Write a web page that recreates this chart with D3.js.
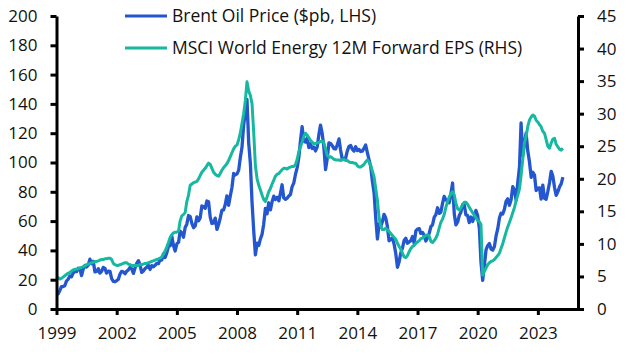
<!DOCTYPE html>
<html><head><meta charset="utf-8">
<script src="https://cdn.jsdelivr.net/npm/d3@7"></script>
<style>
html,body{margin:0;padding:0;background:#fff;}
svg text{font-family:"Open Sans",sans-serif;fill:#111;}
</style></head>
<body><svg id="chart" width="627" height="355"></svg>
<script>
// Monthly series starting Jan 1999
const startYear = 1999;
const brent = [
10.7,10.3,12.5,15.3,15.3,15.9,19.0,20.3,22.5,22.0,24.6,25.6,
25.5,27.8,27.5,22.8,27.3,29.8,28.7,30.0,34.0,30.9,32.6,25.3,
25.6,27.5,24.5,25.7,28.4,27.7,24.5,25.8,25.7,20.7,18.9,18.6,
19.4,20.3,23.7,25.7,25.4,24.1,25.7,26.7,28.4,27.5,24.3,28.0,
31.2,33.0,30.3,25.0,25.8,27.6,28.4,29.8,27.0,29.6,28.8,29.8,
31.2,30.9,33.8,33.4,37.6,35.2,38.2,42.7,43.2,49.8,43.1,39.6,
44.5,45.5,53.1,51.9,49.0,55.6,57.9,63.8,63.0,58.5,55.5,56.7,
62.9,60.2,62.1,70.3,69.8,68.7,73.7,73.2,62.5,58.4,58.8,62.0,
54.3,57.8,62.1,67.4,67.5,71.3,77.2,70.8,77.1,82.9,92.5,91.5,
92.2,94.8,103.3,110.4,125.5,133.9,143.0,113.4,99.1,72.8,53.2,37.0,
44.9,43.4,47.7,50.9,57.9,68.6,64.9,72.5,67.7,73.2,77.0,74.7,
76.2,73.8,78.8,84.8,75.9,74.8,75.6,77.1,78.2,83.5,86.1,92.0,
96.5,103.7,114.6,124.5,114.5,113.9,116.7,110.2,112.8,109.6,110.5,107.9,
110.7,119.3,125.5,119.8,110.3,95.2,102.6,113.4,113.0,111.5,109.5,109.2,
112.3,116.1,108.5,102.3,102.6,102.9,107.7,111.0,111.6,109.1,107.8,110.8,
108.1,108.9,107.5,107.8,109.7,111.9,106.9,101.9,97.3,87.3,79.4,62.3,
47.8,58.1,55.9,59.5,64.6,62.3,56.6,46.5,47.6,48.4,44.3,38.0,
28.5,32.2,38.2,41.6,46.7,48.3,44.9,45.8,46.6,49.5,44.8,53.3,
54.6,54.9,51.6,52.3,50.3,46.4,48.5,51.7,56.2,57.5,62.7,64.4,
69.1,65.3,66.0,72.1,76.9,74.4,74.3,72.5,78.9,86.0,64.8,57.4,
59.4,64.0,66.1,71.2,71.3,64.2,63.9,59.0,62.8,59.7,63.2,67.3,
63.6,55.0,32.0,19.5,29.4,40.3,43.2,44.7,40.9,40.2,42.7,49.9,
54.8,62.3,65.4,64.8,68.0,73.4,75.2,70.8,74.5,83.5,81.1,74.2,
86.5,97.1,127.0,104.6,113.3,120.0,108.0,100.5,89.8,93.3,91.4,80.9,
82.5,82.6,75.0,84.6,75.5,74.9,80.1,86.2,94.0,90.6,82.9,77.6,
80.1,83.5,85.4,90.0
];
const eps = [
5.0,4.8,4.6,4.7,4.9,5.1,5.3,5.5,5.6,5.8,6.0,6.1,
6.1,6.2,6.3,6.4,6.5,6.6,6.8,6.9,7.0,7.1,7.2,7.3,
7.3,7.4,7.5,7.6,7.6,7.7,7.7,7.8,7.8,7.6,7.0,6.8,
6.7,6.7,6.8,6.9,7.0,7.1,7.1,6.9,6.8,6.7,6.7,6.7,
6.7,6.7,6.8,6.8,6.9,7.0,7.0,7.1,7.2,7.3,7.4,7.5,
7.6,7.7,7.8,8.0,8.4,8.9,9.5,10.2,11.0,11.4,11.7,11.8,
11.8,12.0,13.5,14.3,14.5,14.8,16.5,17.5,19.0,19.2,19.4,19.5,
19.6,20.0,20.5,21.0,21.3,21.6,22.0,22.4,22.2,21.6,21.0,20.7,
20.5,20.4,20.8,21.3,21.7,22.0,22.3,22.8,23.4,24.0,24.6,25.0,
25.2,26.0,27.0,28.5,30.0,32.0,34.9,33.5,32.8,31.5,27.0,22.0,
20.0,19.0,18.3,17.5,16.8,16.5,17.2,18.0,18.5,19.2,19.8,20.4,
20.7,20.8,21.1,21.4,21.6,21.6,21.5,21.7,21.8,21.9,21.9,22.2,
23.0,24.2,24.9,25.6,26.5,27.0,26.7,26.3,25.9,25.6,25.4,25.4,
25.5,25.6,25.7,25.8,25.5,24.6,23.6,23.3,23.4,23.2,23.0,22.9,
22.9,22.9,22.8,22.9,23.0,22.8,22.8,22.6,22.5,22.5,22.4,22.4,
22.0,21.8,21.8,22.0,22.2,22.6,22.9,22.6,22.0,21.2,20.3,18.5,
16.7,14.0,12.8,12.2,12.2,12.4,12.2,11.9,11.6,11.3,11.0,10.7,
10.1,9.6,9.2,8.6,8.0,7.9,8.2,8.8,9.3,9.6,9.8,10.1,
10.3,10.5,10.8,10.9,11.1,11.3,11.4,11.2,10.4,10.2,10.5,10.9,
11.5,12.5,13.3,13.8,14.5,15.6,16.5,17.2,17.7,18.0,17.5,16.2,
15.4,15.2,15.5,16.0,16.4,16.4,16.1,15.6,15.2,14.8,14.4,14.0,
13.6,13.4,13.0,5.2,5.8,6.3,6.8,7.1,7.3,7.4,7.6,7.9,
8.2,8.6,9.3,10.0,10.9,11.8,12.6,13.3,14.0,14.8,15.6,16.6,
17.5,18.5,20.5,23.0,25.5,26.5,28.0,29.0,29.5,29.8,29.6,29.0,
28.7,28.3,28.0,27.3,27.0,26.0,25.0,24.7,25.5,26.1,26.2,25.3,
24.9,24.5,24.4,24.7
];
const xTickYears = [1999,2002,2005,2008,2011,2014,2017,2020,2023];
const leftTicks = [0,20,40,60,80,100,120,140,160,180,200];
const rightTicks = [0,5,10,15,20,25,30,35,40,45];
const seriesNames = ["Brent Oil Price ($pb, LHS)","MSCI World Energy 12M Forward EPS (RHS)"];
const colors = ["#2356cf","#17b8a0"];

const svg = d3.select("#chart");
const mLeft = 56.5, mRight = 578, mTop = 16, mBottom = 309;
const x = d3.scaleTime().domain([new Date(1999,0,1), new Date(2025,0,1)]).range([mLeft, mRight]);
const yL = d3.scaleLinear().domain([0,200]).range([mBottom, mTop]);
const yR = d3.scaleLinear().domain([0,45]).range([mBottom, mTop]);
const dateOf = i => new Date(startYear + Math.floor(i/12), i%12, 1);

const lineL = d3.line().x((d,i)=>x(dateOf(i))).y(d=>yL(d));
const lineR = d3.line().x((d,i)=>x(dateOf(i))).y(d=>yR(d));

svg.append("path").datum(brent).attr("d", lineL)
  .attr("fill","none").attr("stroke",colors[0]).attr("stroke-width",3.3).attr("stroke-linejoin","round");
svg.append("path").datum(eps).attr("d", lineR)
  .attr("fill","none").attr("stroke",colors[1]).attr("stroke-width",3).attr("stroke-linejoin","round");

const fs = 17;
function styleAxis(g){
  g.select(".domain").attr("stroke","#000").attr("stroke-width",3);
  g.selectAll(".tick line").attr("stroke","#000").attr("stroke-width",3);
  g.selectAll(".tick text").style("font-size",fs+"px").attr("fill","#111");
}
svg.append("g").attr("transform",`translate(${mLeft},0)`)
  .call(d3.axisLeft(yL).tickValues(leftTicks).tickSize(6).tickSizeOuter(0).tickPadding(13))
  .call(styleAxis);
svg.append("g").attr("transform",`translate(${mRight},0)`)
  .call(d3.axisRight(yR).tickValues(rightTicks).tickSize(6).tickSizeOuter(0).tickPadding(13))
  .call(styleAxis);
svg.append("g").attr("transform",`translate(0,${mBottom})`)
  .call(d3.axisBottom(x).tickValues(xTickYears.map(y=>new Date(y,0,1))).tickFormat(d3.timeFormat("%Y")).tickSize(6).tickSizeOuter(0).tickPadding(12))
  .call(styleAxis);

// legend
const lg = svg.append("g");
seriesNames.forEach((n,i)=>{
  const cy = 16 + i*32;
  lg.append("line").attr("x1",125).attr("x2",167).attr("y1",cy).attr("y2",cy)
    .attr("stroke",colors[i]).attr("stroke-width",3);
  lg.append("text").attr("x",172).attr("y",cy).attr("dy","0.36em")
    .style("font-size","17.5px").text(n);
});
</script></body></html>
